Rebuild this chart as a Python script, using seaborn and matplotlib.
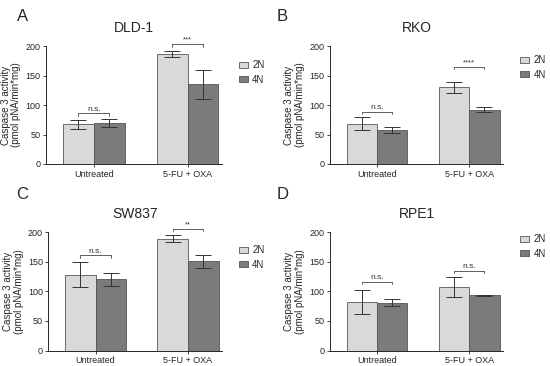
import numpy as np
import pandas as pd
import matplotlib
matplotlib.use("Agg")
import matplotlib.pyplot as plt
import seaborn as sns

# values
treatments = ["Untreated", "5-FU + OXA"]
ploidy = ["2N", "4N"]
cell_lines = ["DLD-1", "RKO", "SW837", "RPE1"]
letters = ["A", "B", "C", "D"]

dld1_mean = [67, 70, 186, 135]
dld1_sd = [8, 7, 5, 25]
rko_mean = [68, 57, 130, 92]
rko_sd = [11, 5, 9, 4]
sw837_mean = [128, 120, 189, 151]
sw837_sd = [21, 11, 6, 11]
rpe1_mean = [82, 81, 107, 93]
rpe1_sd = [21, 6, 17, 1]

# significance label and bracket height per treatment
dld1_sig = [("n.s.", 86), ("***", 203)]
rko_sig = [("n.s.", 89), ("****", 165)]
sw837_sig = [("n.s.", 161), ("**", 205)]
rpe1_sig = [("n.s.", 116), ("n.s.", 135)]

means = [dld1_mean, rko_mean, sw837_mean, rpe1_mean]
sds = [dld1_sd, rko_sd, sw837_sd, rpe1_sd]
sigs = [dld1_sig, rko_sig, sw837_sig, rpe1_sig]

sns.set_style("ticks")
plt.rcParams['font.family'] = ['Liberation Sans', 'DejaVu Sans']

fig = plt.figure(figsize=(5.5, 3.66), dpi=100)
axes_pos = [
    [0.084, 0.552, 0.32, 0.322],
    [0.600, 0.552, 0.315, 0.322],
    [0.088, 0.042, 0.316, 0.324],
    [0.600, 0.042, 0.315, 0.324],
]
# legend upper-left corner in figure fraction
legend_pos = [(0.434, 0.835), (0.945, 0.849), (0.434, 0.330), (0.945, 0.360)]
letter_pos = [(0.03, 0.975), (0.503, 0.975), (0.03, 0.49), (0.503, 0.49)]
palette = {"2N": "#d9d9d9", "4N": "#7b7b7b"}

for i in range(4):
    ax = fig.add_axes(axes_pos[i])
    df = pd.DataFrame({
        "treatment": np.repeat(treatments, 2),
        "ploidy": ploidy * 2,
        "value": means[i],
        "sd": sds[i],
    })
    sns.barplot(data=df, x="treatment", y="value", hue="ploidy",
                order=treatments, hue_order=ploidy, palette=palette,
                width=0.66, errorbar=None, edgecolor="#555555",
                linewidth=0.6, ax=ax)

    # error bars at bar centres
    for h_i, h in enumerate(ploidy):
        cont = ax.containers[h_i]
        for t_i, bar in enumerate(cont):
            row = df[(df.treatment == treatments[t_i]) & (df.ploidy == h)].iloc[0]
            xc = bar.get_x() + bar.get_width() / 2
            ax.errorbar(xc, row.value, yerr=row.sd, color="#333333",
                        capsize=6, elinewidth=0.7, capthick=0.7, fmt="none")

    # significance brackets
    for t_i, (lab, yb) in enumerate(sigs[i]):
        b1 = ax.containers[0][t_i]
        b2 = ax.containers[1][t_i]
        x1 = b1.get_x() + b1.get_width() / 2
        x2 = b2.get_x() + b2.get_width() / 2
        ax.plot([x1, x1, x2, x2], [yb - 4, yb, yb, yb - 4],
                color="#444444", lw=0.6, clip_on=False)
        ax.text((x1 + x2) / 2, yb + 1, lab, ha="center", va="bottom",
                fontsize=6 if lab == "n.s." else 5.5, color="#333333")

    ax.set_ylim(0, 200)
    ax.set_yticks([0, 50, 100, 150, 200])
    ax.set_xlim(-0.51, 1.37)
    ax.set_xlabel("")
    ax.set_ylabel("Caspase 3 activity\n(pmol pNA/min*mg)", fontsize=7,
                  labelpad=3, linespacing=1.1)
    ax.set_title(cell_lines[i], fontsize=10, pad=10)
    ax.tick_params(axis="both", labelsize=6.5, length=2.5, width=0.6, pad=1.5)
    for s in ["left", "bottom"]:
        ax.spines[s].set_linewidth(0.7)
    sns.despine(ax=ax)

    ax.legend(loc="upper left", bbox_to_anchor=legend_pos[i],
              bbox_transform=fig.transFigure, borderaxespad=0, borderpad=0,
              frameon=False, fontsize=7, handlelength=1.0,
              handleheight=0.55, labelspacing=0.45, handletextpad=0.4)

    fig.text(letter_pos[i][0], letter_pos[i][1], letters[i], fontsize=12,
             va="top", ha="left")

fig.savefig("out.png", dpi=100)
